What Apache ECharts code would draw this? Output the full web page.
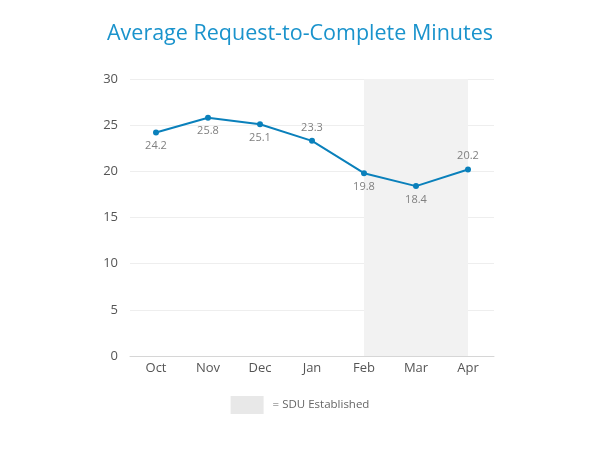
<!DOCTYPE html>
<html>
<head>
<meta charset="utf-8">
<script src="https://cdn.jsdelivr.net/npm/echarts@6/dist/echarts.min.js"></script>
<style>html,body{margin:0;padding:0;background:#fff}#c{width:600px;height:450px}</style>
</head>
<body>
<div id="c"></div>
<script>
const categories = ['Oct', 'Nov', 'Dec', 'Jan', 'Feb', 'Mar', 'Apr'];
const minutes = [24.2, 25.8, 25.1, 23.3, 19.8, 18.4, 20.2];
const labelPositions = ['bottom', 'bottom', 'bottom', 'top', 'bottom', 'bottom', 'top'];
const shadeStart = 'Feb';
const shadeEnd = 'Apr';
const yTicks = { min: 0, max: 30, interval: 5 };

const chart = echarts.init(document.getElementById('c'));
const font = '"Open Sans", Lato, sans-serif';
chart.setOption({
  animation: false,
  textStyle: { fontFamily: font },
  title: {
    text: 'Average Request-to-Complete Minutes',
    left: 'center', top: 18,
    textStyle: { color: '#1a93cc', fontSize: 21.5, fontWeight: 'normal', fontFamily: font }
  },
  grid: { left: 130, right: 106, top: 79, bottom: 94 },
  legend: {
    bottom: 31, left: 'center',
    itemWidth: 33, itemHeight: 18,
    icon: 'rect',
    data: [{ name: '= SDU Established', itemStyle: { color: '#e8e8e8' } }],
    textStyle: { color: '#666', fontSize: 11.5, fontFamily: font, padding: [0, 0, 0, 4] },
    selectedMode: false
  },
  xAxis: {
    type: 'category', data: categories, boundaryGap: true,
    axisLine: { lineStyle: { color: '#d6d6d6' } },
    axisTick: { show: false },
    axisLabel: { color: '#555', fontSize: 13, margin: 6 }
  },
  yAxis: {
    type: 'value', min: yTicks.min, max: yTicks.max, interval: yTicks.interval,
    axisLine: { show: false }, axisTick: { show: false },
    splitLine: { lineStyle: { color: '#eeeeee' } },
    axisLabel: { color: '#555', fontSize: 13, margin: 12 }
  },
  series: [
    {
      name: 'Minutes', type: 'line',
      data: minutes.map((v, i) => ({ value: v, label: { position: labelPositions[i] } })),
      symbol: 'circle', symbolSize: 6,
      lineStyle: { color: '#0a80bb', width: 2 },
      itemStyle: { color: '#0a80bb' },
      label: { show: true, color: '#808080', fontSize: 11, distance: 5 },
      markArea: {
        silent: true,
        itemStyle: { color: '#f2f2f2' },
        data: [[{ xAxis: shadeStart, yAxis: yTicks.min }, { xAxis: shadeEnd, yAxis: yTicks.max }]]
      },
      z: 3
    },
    {
      name: '= SDU Established', type: 'bar', data: [],
      itemStyle: { color: '#e8e8e8' }
    }
  ]
});
</script>
</body>
</html>
